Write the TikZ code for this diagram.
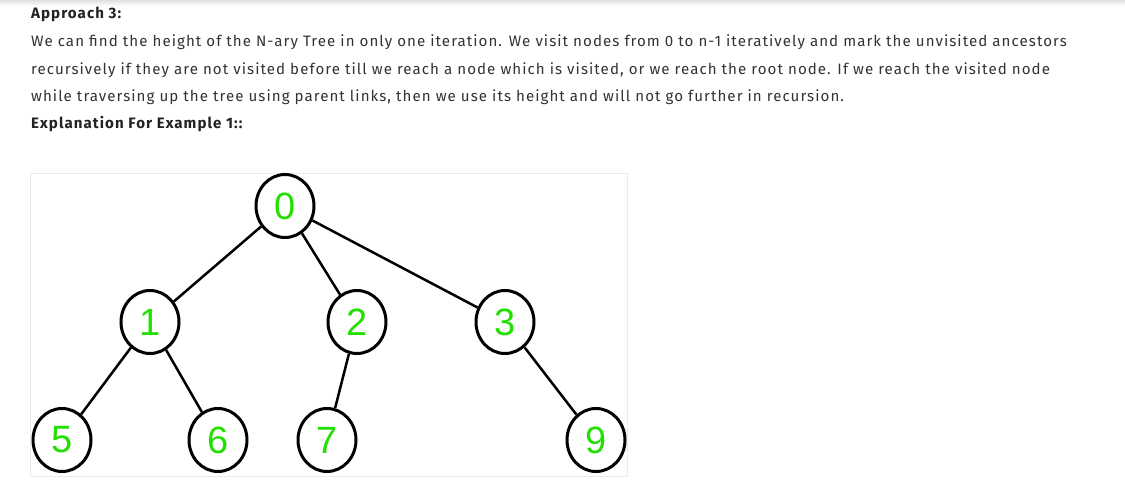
\documentclass[tikz,border=0pt]{standalone}
\usepackage{fontspec}
\setmainfont{Fira Sans}[LetterSpace=7]
\newfontfamily\digitfont{Liberation Sans}
\usetikzlibrary{shapes.geometric}
\definecolor{bodytxt}{HTML}{333333}
\definecolor{headtxt}{HTML}{222222}
\definecolor{numgreen}{HTML}{22E000}
\tikzset{
  tnode/.style={ellipse, draw=black, line width=3pt, minimum width=58pt, minimum height=63pt, inner sep=0pt, font=\digitfont\fontsize{38}{38}\selectfont, text=numgreen, fill=white},
  tedge/.style={line width=2.5pt, black},
  txtline/.style={anchor=base west, inner sep=0pt, text=bodytxt, font=\fontsize{15.1}{16}\selectfont},
  headline/.style={anchor=base west, inner sep=0pt, text=headtxt, font=\bfseries\fontsize{15.1}{16}\selectfont}
}
\begin{document}
\begin{tikzpicture}[x=1pt,y=-1pt]
\useasboundingbox (0,0) rectangle (1125,500);
\fill[white] (0,0) rectangle (1125,500);
\shade[top color=black!12, bottom color=white] (0,0) rectangle (1125,6);
% text
\node[headline] (h1) at (31,19) {Approach 3:};
\node[txtline] (l1) at (31,47) {We can find the height of the N-ary Tree in only one iteration. We visit nodes from 0 to n-1 iteratively and mark the unvisited ancestors};
\node[txtline] (l2) at (31,75) {recursively if they are not visited before till we reach a node which is visited, or we reach the root node. If we reach the visited node};
\node[txtline] (l3) at (31,102) {while traversing up the tree using parent links, then we use its height and will not go further in recursion.};
\node[headline] (h2) at (31,129) {Explanation For Example 1::};
% picture frame
\draw[black!8, line width=1pt] (30,174) rectangle (627,476);
% tree nodes
\node[tnode] (n0) at (285,206) {0};
\node[tnode] (n1) at (150,322) {1};
\node[tnode] (n2) at (357,322) {2};
\node[tnode] (n3) at (505,322) {3};
\node[tnode] (n5) at (62,440) {5};
\node[tnode] (n6) at (218,440) {6};
\node[tnode] (n7) at (327,440) {7};
\node[tnode] (n9) at (596,440) {9};
% edges
\draw[tedge] (n0) -- (n1);
\draw[tedge] (n0) -- (n2);
\draw[tedge] (n0) -- (n3);
\draw[tedge] (n1) -- (n5);
\draw[tedge] (n1) -- (n6);
\draw[tedge] (n2) -- (n7);
\draw[tedge] (n3) -- (n9);
\end{tikzpicture}
\end{document}
